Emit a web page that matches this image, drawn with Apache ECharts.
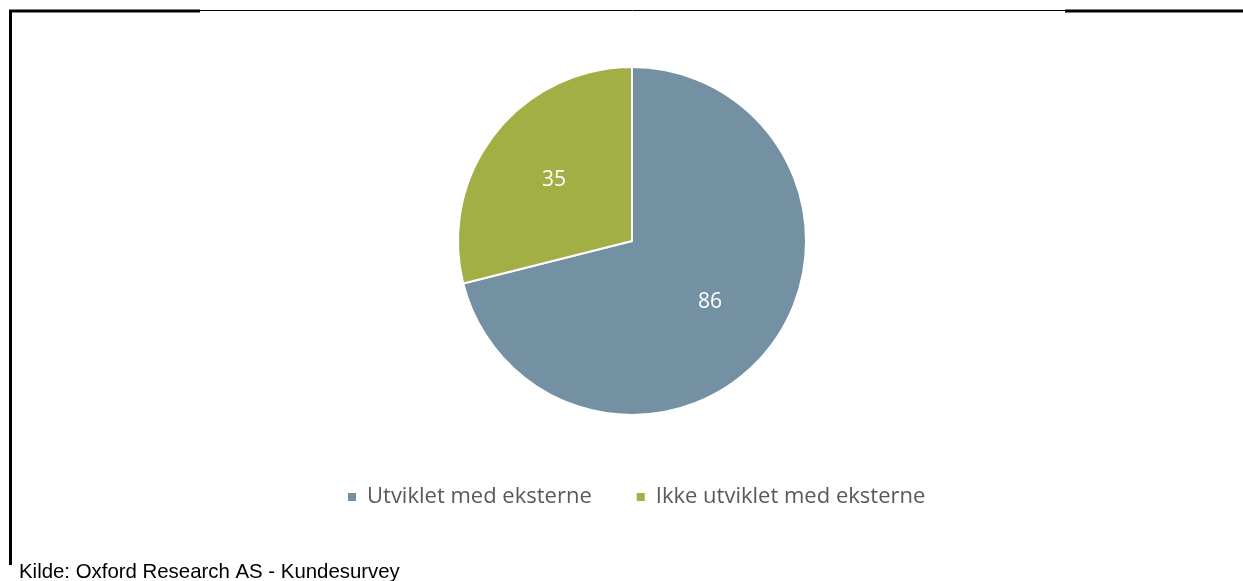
<!DOCTYPE html>
<html>
<head>
<meta charset="utf-8">
<script src="https://cdn.jsdelivr.net/npm/echarts@6/dist/echarts.min.js"></script>
<style>
  html, body { margin: 0; padding: 0; background: #ffffff; }
  #chart { width: 1243px; height: 581px; }
</style>
</head>
<body>
<div id="chart"></div>
<script>
// Pie slices: answers from the customer survey
const categories = ['Utviklet med eksterne', 'Ikke utviklet med eksterne'];
const values = [86, 35];
const colors = ['#7391A3', '#A1AF45'];
const sourceNote = 'Kilde: Oxford Research AS - Kundesurvey';

const PIE_CENTER = [632, 241];
const PIE_RADIUS = 174;
// push the value labels a little further out than the slice's mid-radius
const LABEL_PUSH = 1.1;

const chart = echarts.init(document.getElementById('chart'), null, { renderer: 'canvas' });

const option = {
  backgroundColor: '#ffffff',
  animation: false,
  legend: {
    data: categories,
    left: 341,
    top: 481,
    icon: 'rect',
    itemWidth: 10,
    itemHeight: 10,
    itemGap: 43,
    textStyle: {
      fontFamily: 'Open Sans',
      fontSize: 22,
      color: '#595959',
      padding: [0, 0, 0, 5]
    }
  },
  graphic: [
    // frame around the figure
    { type: 'line', shape: { x1: 9, y1: 11, x2: 200, y2: 11 }, style: { stroke: '#000', lineWidth: 3 } },
    { type: 'line', shape: { x1: 200, y1: 10.5, x2: 1065, y2: 10.5 }, style: { stroke: '#000', lineWidth: 1 } },
    { type: 'line', shape: { x1: 1065, y1: 11, x2: 1243, y2: 11 }, style: { stroke: '#000', lineWidth: 3 } },
    { type: 'line', shape: { x1: 10.5, y1: 10, x2: 10.5, y2: 565 }, style: { stroke: '#000', lineWidth: 3 } },
    {
      type: 'text',
      left: 19,
      top: 562,
      style: {
        text: sourceNote,
        font: '20.4px "Liberation Sans", Arial, sans-serif',
        fill: '#000'
      }
    }
  ],
  series: [{
    type: 'pie',
    center: PIE_CENTER,
    radius: PIE_RADIUS,
    startAngle: 90,
    clockwise: true,
    avoidLabelOverlap: false,
    itemStyle: { borderColor: '#ffffff', borderWidth: 2 },
    label: {
      show: true,
      position: 'inside',
      formatter: '{c}',
      color: '#ffffff',
      fontFamily: 'Open Sans',
      fontSize: 21
    },
    labelLayout: function (params) {
      const r = params.labelRect;
      const cx = r.x + r.width / 2;
      const cy = r.y + r.height / 2;
      return {
        dx: (cx - PIE_CENTER[0]) * (LABEL_PUSH - 1),
        dy: (cy - PIE_CENTER[1]) * (LABEL_PUSH - 1)
      };
    },
    labelLine: { show: false },
    emphasis: { disabled: true },
    data: categories.map((name, i) => ({
      name: name,
      value: values[i],
      itemStyle: { color: colors[i] }
    }))
  }]
};

chart.setOption(option);
</script>
</body>
</html>
